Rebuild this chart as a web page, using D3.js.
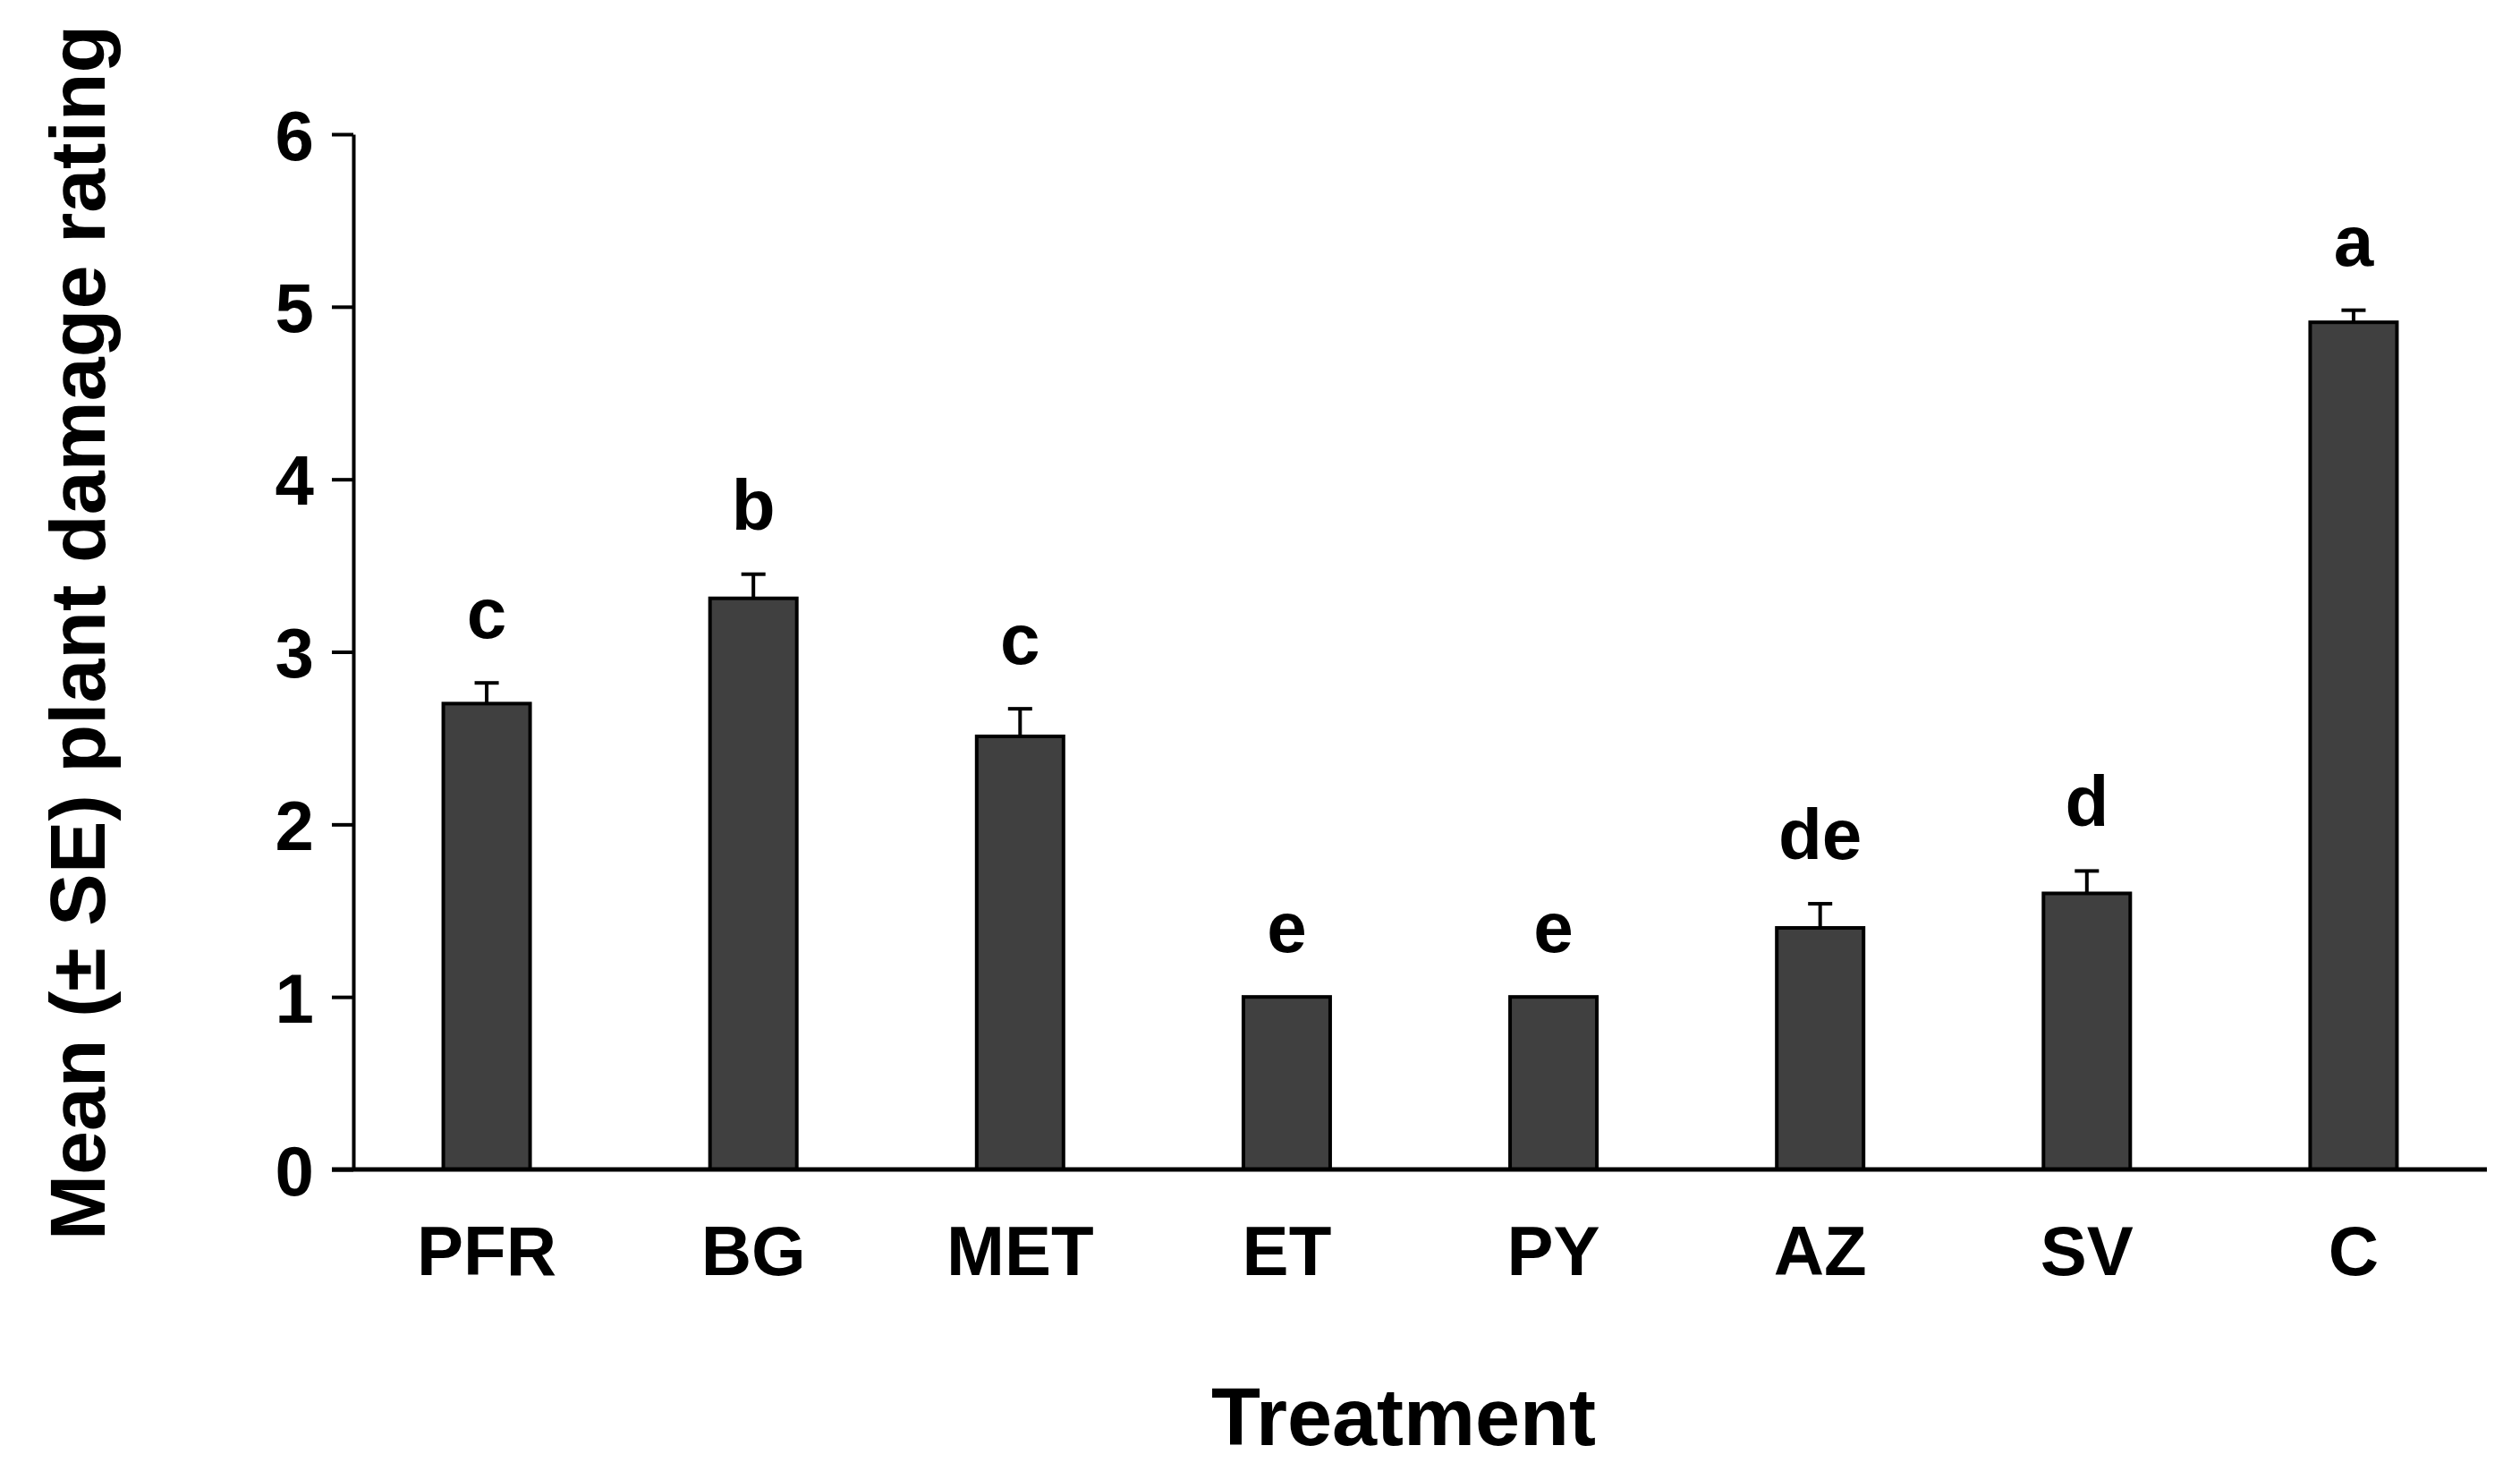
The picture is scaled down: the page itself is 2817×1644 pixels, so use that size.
<!DOCTYPE html>
<html>
<head>
<meta charset="utf-8">
<script src="https://cdn.jsdelivr.net/npm/d3@7"></script>
<style>
  body { margin: 0; background: #fff; }
  svg text { font-family: "Liberation Sans", Arial, sans-serif; font-weight: bold; fill: #000; }
</style>
</head>
<body>
<div id="chart"></div>
<script>
// data
const treatments = ['PFR', 'BG', 'MET', 'ET', 'PY', 'AZ', 'SV', 'C'];
const means = [2.70, 3.31, 2.51, 1.00, 1.00, 1.40, 1.60, 4.91];
const errors = [0.12, 0.14, 0.16, 0, 0, 0.14, 0.13, 0.07];
const letters = ['c', 'b', 'c', 'e', 'e', 'de', 'd', 'a'];
const yTicks = [0, 1, 2, 3, 4, 5, 6];

const W = 2817, H = 1644;
const margin = {top: 150, right: 37, bottom: 337, left: 395};
const width = W - margin.left - margin.right,
      height = H - margin.top - margin.bottom;

const svg = d3.select("#chart")
  .append("svg")
    .attr("width", W)
    .attr("height", H)
  .append("g")
    .attr("transform", `translate(${margin.left},${margin.top})`);

// scales
const x = d3.scaleBand()
  .domain(treatments)
  .range([0, width])
  .padding(0);
const barW = 97;

const y = d3.scaleLinear()
  .domain([0, 6])
  .range([height, 0]);

// y axis
const tickLen = 24;
const yAxis = svg.append("g")
  .call(d3.axisLeft(y).tickValues(yTicks).tickFormat(d3.format("d"))
    .tickSize(tickLen).tickSizeOuter(0).tickPadding(20));
yAxis.select(".domain").attr("stroke", "#000").attr("stroke-width", 4);
yAxis.selectAll(".tick line").attr("stroke", "#000").attr("stroke-width", 4);
yAxis.selectAll(".tick text")
  .style("font-size", "78px")
  .attr("dy", "0.36em");

// x axis
const xAxis = svg.append("g")
  .attr("transform", `translate(0,${height})`)
  .call(d3.axisBottom(x).tickSize(0));
xAxis.select(".domain").remove();
xAxis.selectAll(".tick text")
  .style("font-size", "78px")
  .attr("y", 118)
  .attr("dy", 0);

// bars
svg.append("g")
  .selectAll("rect")
  .data(treatments)
  .join("rect")
    .attr("x", d => x(d) + x.bandwidth() / 2 - barW / 2)
    .attr("y", (d, i) => y(means[i]))
    .attr("width", barW)
    .attr("height", (d, i) => y(0) - y(means[i]))
    .attr("fill", "#404040")
    .attr("stroke", "#000")
    .attr("stroke-width", 4);

// error bars (upper only)
const capW = 27;
const eb = svg.append("g")
  .selectAll("g")
  .data(treatments.filter((d, i) => errors[i] > 0))
  .join("g");
eb.append("line")
  .attr("x1", d => x(d) + x.bandwidth() / 2)
  .attr("x2", d => x(d) + x.bandwidth() / 2)
  .attr("y1", d => y(means[treatments.indexOf(d)]))
  .attr("y2", d => { const i = treatments.indexOf(d); return y(means[i] + errors[i]); })
  .attr("stroke", "#000")
  .attr("stroke-width", 4);
eb.append("line")
  .attr("x1", d => x(d) + x.bandwidth() / 2 - capW / 2)
  .attr("x2", d => x(d) + x.bandwidth() / 2 + capW / 2)
  .attr("y1", d => { const i = treatments.indexOf(d); return y(means[i] + errors[i]); })
  .attr("y2", d => { const i = treatments.indexOf(d); return y(means[i] + errors[i]); })
  .attr("stroke", "#000")
  .attr("stroke-width", 4);

// x baseline, drawn over bar bottoms, starting at the tick end
svg.append("line")
  .attr("x1", -tickLen)
  .attr("x2", width)
  .attr("y1", y(0))
  .attr("y2", y(0))
  .attr("stroke", "#000")
  .attr("stroke-width", 5);

// significance letters
svg.append("g")
  .selectAll("text")
  .data(treatments)
  .join("text")
    .attr("x", d => x(d) + x.bandwidth() / 2)
    .attr("y", (d, i) => y(means[i] + errors[i]) - 50)
    .attr("text-anchor", "middle")
    .style("font-size", "80px")
    .text((d, i) => letters[i]);

// axis titles
svg.append("text")
  .attr("x", 1569 - margin.left)
  .attr("y", 1615 - margin.top)
  .attr("text-anchor", "middle")
  .style("font-size", "90px")
  .text("Treatment");

svg.append("text")
  .attr("transform", `translate(${117 - margin.left},${707 - margin.top}) rotate(-90)`)
  .attr("text-anchor", "middle")
  .style("font-size", "88px")
  .text("Mean (± SE) plant damage rating");
</script>
</body>
</html>
